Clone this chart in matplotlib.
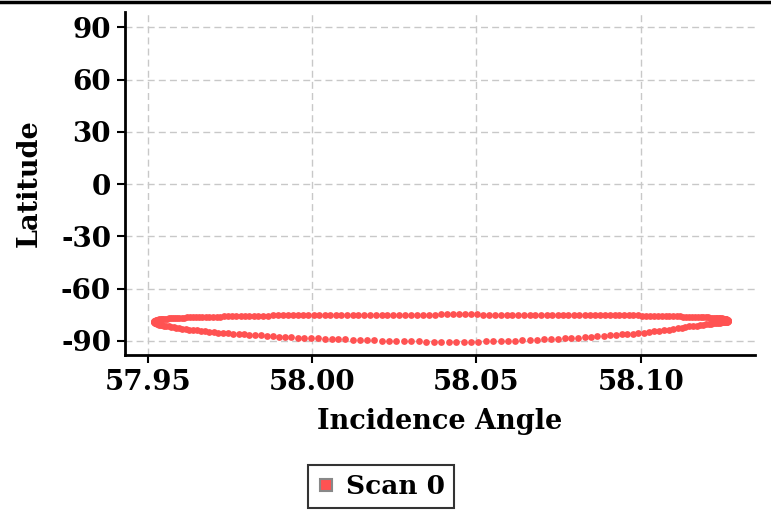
import matplotlib.pyplot as plt
from matplotlib.lines import Line2D

# Scan 0 footprint: upper branch (left tip -> right tip)
upper_x = [
    57.9520, 57.9520, 57.9521, 57.9522, 57.9523, 57.9525, 57.9527, 57.9529, 57.9532, 57.9535,
    57.9539, 57.9543, 57.9547, 57.9552, 57.9557, 57.9563, 57.9569, 57.9575, 57.9581, 57.9588,
    57.9595, 57.9603, 57.9611, 57.9619, 57.9628, 57.9637, 57.9646, 57.9656, 57.9666, 57.9676,
    57.9687, 57.9698, 57.9709, 57.9720, 57.9732, 57.9744, 57.9757, 57.9769, 57.9782, 57.9795,
    57.9809, 57.9822, 57.9836, 57.9851, 57.9865, 57.9880, 57.9895, 57.9910, 57.9925, 57.9941,
    57.9956, 57.9972, 57.9988, 58.0005, 58.0021, 58.0038, 58.0054, 58.0071, 58.0088, 58.0106,
    58.0123, 58.0140, 58.0158, 58.0176, 58.0193, 58.0211, 58.0229, 58.0247, 58.0265, 58.0283,
    58.0301, 58.0320, 58.0338, 58.0356, 58.0374, 58.0393, 58.0411, 58.0429, 58.0447, 58.0465,
    58.0484, 58.0502, 58.0520, 58.0538, 58.0556, 58.0574, 58.0592, 58.0609, 58.0627, 58.0645,
    58.0662, 58.0679, 58.0697, 58.0714, 58.0731, 58.0747, 58.0764, 58.0780, 58.0797, 58.0813,
    58.0829, 58.0844, 58.0860, 58.0875, 58.0890, 58.0905, 58.0920, 58.0934, 58.0949, 58.0963,
    58.0976, 58.0990, 58.1003, 58.1016, 58.1028, 58.1041, 58.1053, 58.1065, 58.1076, 58.1087,
    58.1098, 58.1109, 58.1119, 58.1129, 58.1139, 58.1148, 58.1157, 58.1166, 58.1174, 58.1182,
    58.1190, 58.1197, 58.1204, 58.1210, 58.1216, 58.1222, 58.1228, 58.1233, 58.1238, 58.1242,
    58.1246, 58.1250, 58.1253, 58.1256, 58.1258, 58.1260, 58.1262, 58.1263, 58.1264, 58.1265,
    58.1265,
]
upper_y = [
    -79.2, -78.8, -78.6, -78.4, -78.3, -78.1, -78.0, -77.9, -77.8, -77.7,
    -77.6, -77.5, -77.4, -77.3, -77.2, -77.1, -77.0, -77.0, -76.9, -76.8,
    -76.7, -76.7, -76.6, -76.5, -76.5, -76.4, -76.3, -76.3, -76.2, -76.2,
    -76.1, -76.1, -76.0, -76.0, -75.9, -75.9, -75.8, -75.8, -75.7, -75.7,
    -75.6, -75.6, -75.6, -75.5, -75.5, -75.4, -75.4, -75.4, -75.3, -75.3,
    -75.3, -75.2, -75.2, -75.2, -75.2, -75.1, -75.1, -75.1, -75.1, -75.0,
    -75.0, -75.0, -75.0, -75.0, -74.9, -74.9, -74.9, -74.9, -74.9, -74.9,
    -74.9, -74.9, -74.9, -74.9, -74.9, -74.8, -74.8, -74.8, -74.8, -74.8,
    -74.8, -74.8, -74.9, -74.9, -74.9, -74.9, -74.9, -74.9, -74.9, -74.9,
    -74.9, -74.9, -75.0, -75.0, -75.0, -75.0, -75.0, -75.0, -75.1, -75.1,
    -75.1, -75.1, -75.2, -75.2, -75.2, -75.2, -75.3, -75.3, -75.3, -75.4,
    -75.4, -75.4, -75.5, -75.5, -75.6, -75.6, -75.6, -75.7, -75.7, -75.8,
    -75.8, -75.9, -75.9, -76.0, -76.0, -76.1, -76.1, -76.2, -76.3, -76.3,
    -76.4, -76.4, -76.5, -76.6, -76.7, -76.7, -76.8, -76.9, -77.0, -77.0,
    -77.1, -77.2, -77.3, -77.4, -77.5, -77.7, -77.8, -77.9, -78.1, -78.3,
    -78.7,
]

# lower branch (left tip -> right tip)
lower_x = [
    57.9520, 57.9520, 57.9521, 57.9523, 57.9525, 57.9528, 57.9531, 57.9535, 57.9539, 57.9544,
    57.9550, 57.9556, 57.9563, 57.9570, 57.9578, 57.9586, 57.9595, 57.9605, 57.9615, 57.9626,
    57.9637, 57.9649, 57.9661, 57.9673, 57.9687, 57.9700, 57.9714, 57.9729, 57.9744, 57.9760,
    57.9776, 57.9792, 57.9809, 57.9826, 57.9843, 57.9861, 57.9880, 57.9898, 57.9917, 57.9937,
    57.9956, 57.9976, 57.9996, 58.0017, 58.0038, 58.0059, 58.0080, 58.0101, 58.0123, 58.0145,
    58.0167, 58.0189, 58.0211, 58.0234, 58.0256, 58.0279, 58.0301, 58.0324, 58.0347, 58.0370,
    58.0393, 58.0415, 58.0438, 58.0461, 58.0484, 58.0506, 58.0529, 58.0551, 58.0574, 58.0596,
    58.0618, 58.0640, 58.0662, 58.0684, 58.0705, 58.0726, 58.0747, 58.0768, 58.0789, 58.0809,
    58.0829, 58.0848, 58.0868, 58.0887, 58.0905, 58.0924, 58.0942, 58.0959, 58.0976, 58.0993,
    58.1009, 58.1025, 58.1041, 58.1056, 58.1071, 58.1085, 58.1098, 58.1112, 58.1124, 58.1136,
    58.1148, 58.1159, 58.1170, 58.1180, 58.1190, 58.1199, 58.1207, 58.1215, 58.1222, 58.1228,
    58.1235, 58.1241, 58.1246, 58.1250, 58.1254, 58.1257, 58.1260, 58.1262, 58.1263, 58.1265,
    58.1265,
]
lower_y = [
    -79.2, -79.4, -79.6, -79.8, -80.0, -80.2, -80.4, -80.6, -80.8, -81.0,
    -81.2, -81.5, -81.7, -82.0, -82.2, -82.5, -82.7, -83.0, -83.3, -83.5,
    -83.8, -84.0, -84.3, -84.5, -84.8, -85.0, -85.2, -85.5, -85.7, -85.9,
    -86.1, -86.3, -86.5, -86.7, -86.9, -87.1, -87.3, -87.5, -87.7, -87.9,
    -88.1, -88.2, -88.4, -88.6, -88.7, -88.9, -89.1, -89.2, -89.4, -89.5,
    -89.6, -89.7, -89.9, -90.0, -90.1, -90.2, -90.2, -90.3, -90.4, -90.4,
    -90.5, -90.5, -90.5, -90.4, -90.4, -90.4, -90.3, -90.2, -90.0, -89.9,
    -89.8, -89.6, -89.5, -89.3, -89.1, -88.9, -88.7, -88.5, -88.3, -88.1,
    -87.8, -87.6, -87.4, -87.1, -86.9, -86.6, -86.3, -86.1, -85.8, -85.5,
    -85.2, -84.8, -84.5, -84.2, -83.8, -83.5, -83.1, -82.8, -82.4, -82.1,
    -81.7, -81.5, -81.2, -81.0, -80.7, -80.5, -80.3, -80.1, -79.9, -79.8,
    -79.7, -79.5, -79.4, -79.3, -79.2, -79.1, -79.0, -79.0, -78.9, -78.8,
    -78.7,
]

x_ticks = [57.95, 58.00, 58.05, 58.10]
y_ticks = [-90, -60, -30, 0, 30, 60, 90]
series_name = "Scan 0"
dot_color = "#ff5252"

plt.rcParams["font.family"] = "DejaVu Serif"
plt.rcParams["font.weight"] = "bold"
plt.rcParams["axes.unicode_minus"] = False

fig = plt.figure(figsize=(7.71, 5.12), dpi=100)
ax = fig.add_axes([0.162, 0.307, 0.817, 0.67])

xs = upper_x + lower_x
ys = upper_y + lower_y
ax.scatter(xs, ys, s=24, color=dot_color, linewidths=0, zorder=3)

ax.set_xlim(57.943, 58.1347)
ax.set_ylim(-98, 99)
ax.set_xticks(x_ticks)
ax.set_xticklabels([f"{t:.2f}" for t in x_ticks])
ax.set_yticks(y_ticks)

ax.grid(True, color="#c8c8c8", linestyle=(0, (5, 3)), linewidth=1)
ax.set_axisbelow(True)
for side in ["top", "right"]:
    ax.spines[side].set_visible(False)
for side in ["left", "bottom"]:
    ax.spines[side].set_linewidth(2)
ax.tick_params(axis="both", length=6, width=1.5, labelsize=20, pad=4)
for lab in ax.get_xticklabels() + ax.get_yticklabels():
    lab.set_fontweight("bold")

ax.set_xlabel("Incidence Angle", fontsize=19.5, fontweight="bold", labelpad=9)
ax.set_ylabel("Latitude", fontsize=19.5, fontweight="bold", labelpad=13)

# thin frame line along the top edge
fig.add_artist(Line2D([0, 1], [0.997, 0.997], color="black", linewidth=2.5,
                      transform=fig.transFigure))

handle = Line2D([], [], marker="s", linestyle="none", markersize=9,
                markerfacecolor=dot_color, markeredgecolor="#888888", markeredgewidth=1.5)
leg = fig.legend([handle], [series_name], loc="lower center", bbox_to_anchor=(0.494, -0.008),
                 prop={"size": 19, "weight": "bold"}, frameon=True, fancybox=False,
                 handlelength=0.7, handletextpad=0.4, borderpad=0.35, borderaxespad=0.3)
leg.get_frame().set_edgecolor("black")
leg.get_frame().set_linewidth(1.5)

plt.savefig("out.png", dpi=100)
